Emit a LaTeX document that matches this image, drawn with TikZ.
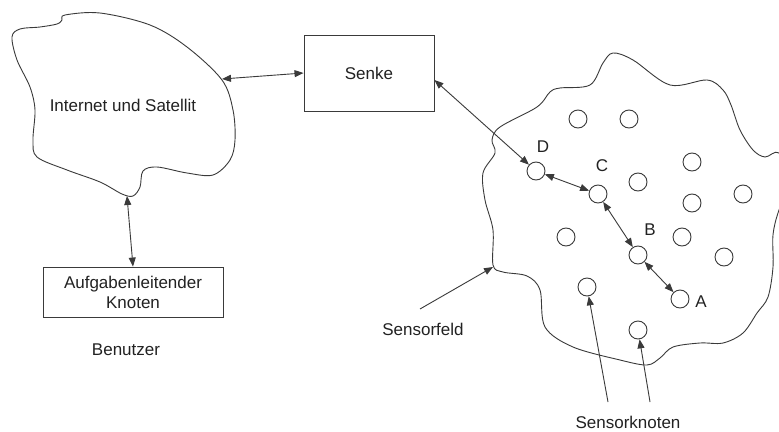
\documentclass[tikz,border=0pt]{standalone}
\usepackage{fontspec}
\setmainfont{Liberation Sans}
\usetikzlibrary{arrows.meta}
\definecolor{lc}{HTML}{3A3A3A}
\definecolor{tc}{HTML}{222222}
\begin{document}
\begin{tikzpicture}[x=1pt,y=-1pt,
  ln/.style={draw=lc, line width=0.9pt},
  tip/.tip={Triangle[length=9pt,width=7pt]},
  dbl/.style={ln, tip-tip},
  one/.style={ln, -tip},
  sn/.style={circle, draw=lc, line width=0.9pt, minimum size=18pt, inner sep=0pt},
  boxst/.style={draw=lc, line width=0.9pt, align=center, inner sep=0pt, text=tc, font=\fontsize{17}{20}\selectfont},
  lbl/.style={text=tc, font=\fontsize{17}{20}\selectfont, inner sep=0pt, align=center}
]
\useasboundingbox (0,0) rectangle (779,431);
\fill[white] (0,0) rectangle (779,431);
\begin{scope}
\clip (0,0) rectangle (779,431);
% left cloud
\draw[ln] plot[smooth cycle, tension=0.55] coordinates {
 (65,15) (100,13) (150,25) (187,47) (222,80) (233,110) (235,140) (230,160)
 (213,175) (187,173) (157,167) (143,171) (140,187) (133,196) (122,194)
 (100,182) (67,170) (37,157) (33,140) (35,110) (30,87) (17,60) (12,37)
 (20,29) (40,27) (57,24) (62,20)};
% sensor field
\draw[ln] plot[smooth cycle, tension=0.55] coordinates {
 (560,88) (590,85) (603,63) (613,53) (633,60) (670,85) (707,80) (723,90)
 (731,105) (740,130) (753,150) (765,157) (779,153) (792,180) (779,210)
 (773,235) (773,267) (768,297) (757,313) (743,333) (723,343) (700,343)
 (673,347) (660,358) (647,365) (620,360) (573,347) (545,327) (540,290)
 (527,276) (503,272) (493,265) (493,230) (485,200) (483,173) (495,153)
 (492,140) (500,127) (537,107) (550,92)};
\end{scope}

\coordinate (cr) at (222,79);
\coordinate (cb) at (127,196);
\coordinate (sf) at (493,267);
\coordinate (sfs) at (420,309);
\coordinate (sk1) at (608,402);
\coordinate (sk2) at (650,402);

\node[lbl] (inet) at (123,105) {Internet und Satellit};
\node[boxst, minimum width=130pt, minimum height=76pt] (senke) at (369,73) {Senke};
\node[boxst, minimum width=180pt, minimum height=50pt] (auf) at (133,292) {Aufgabenleitender\\Knoten};
\node[lbl] (ben) at (126,350) {Benutzer};
\node[lbl] (sfl) at (423,329) {Sensorfeld};
\node[lbl] (skl) at (628,422) {Sensorknoten};

% sensor nodes
\node[sn] (n1) at (578,119) {};
\node[sn] (n2) at (629,119) {};
\node[sn] (D) at (536,171) {};
\node[sn] (C) at (598,194) {};
\node[sn] (n3) at (638,182) {};
\node[sn] (n4) at (692,162) {};
\node[sn] (n5) at (692,203) {};
\node[sn] (n6) at (743,194) {};
\node[sn] (n7) at (566,237) {};
\node[sn] (n8) at (682,237) {};
\node[sn] (B) at (638,255) {};
\node[sn] (n9) at (724,257) {};
\node[sn] (n10) at (587,287) {};
\node[sn] (A) at (680,299) {};
\node[sn] (n11) at (638,330) {};

\node[lbl] (lD) at (543,147) {D};
\node[lbl] (lC) at (602,166) {C};
\node[lbl] (lB) at (650,230) {B};
\node[lbl] (lA) at (701,302) {A};

% connectors
\draw[dbl] (cr) -- (senke.west);
\draw[dbl] (cb) -- (auf.north);
\draw[dbl] (senke.east |- 0,80) -- (D);
\draw[dbl] (D) -- (C);
\draw[dbl] (C) -- (B);
\draw[dbl] (B) -- (A);
\draw[one] (sfs) -- (sf);
\draw[one] (sk1) -- (n10);
\draw[one] (sk2) -- (n11);
\end{tikzpicture}
\end{document}
